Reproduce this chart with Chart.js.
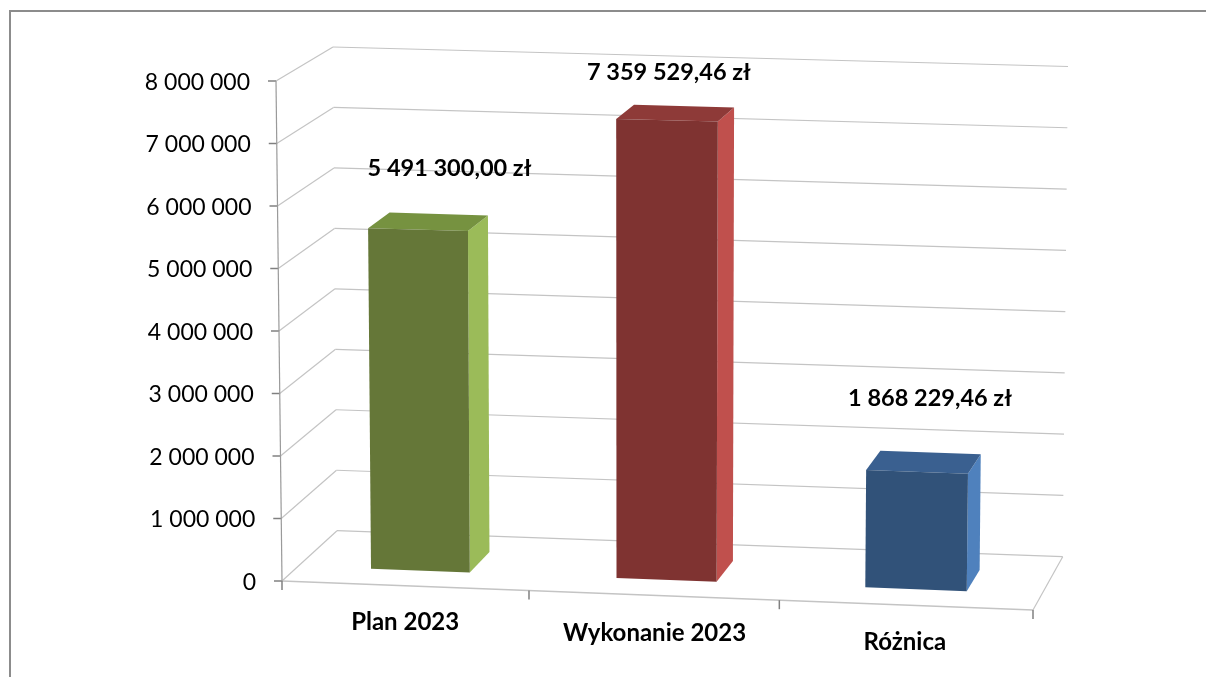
<!DOCTYPE html>
<html>
<head>
<meta charset="utf-8">
<title>Plan 2023</title>
<script src="https://cdn.jsdelivr.net/npm/chart.js@4"></script>
<style>
    html, body { margin: 0; padding: 0; background: #fff; overflow: hidden; }
    canvas { display: block; }
</style>
</head>
<body>
<canvas id="chart" width="1206" height="677"></canvas>
<script>
const categories = ['Plan 2023', 'Wykonanie 2023', 'Różnica'];
const values = [5491300.00, 7359529.46, 1868229.46];
const valueLabels = ['5 491 300,00 zł', '7 359 529,46 zł', '1 868 229,46 zł'];
const tickValues = [0, 1000000, 2000000, 3000000, 4000000, 5000000, 6000000, 7000000, 8000000];
const tickLabels = ['0', '1 000 000', '2 000 000', '3 000 000', '4 000 000', '5 000 000', '6 000 000', '7 000 000', '8 000 000'];

const frontColors = ['#657738', '#7f3331', '#315279'];
const topColors = ['#769240', '#8e3a38', '#3a6090'];
const sideColors = ['#9bbb59', '#c0504d', '#4f81bd'];

// corners of the drawn box: F/B front/back, B/T bottom/top, L/R left/right
const box = {
    fbl: [282, 581], fbr: [1033, 610], ftl: [276, 81], ftr: [1040, 100],
    bbl: [337, 530.7], bbr: [1062.7, 556.7], btl: [333, 47], btr: [1068, 66.5]
};
const depthFront = 0.3;
const depthBack = 0.7;
// slight perspective squeeze along the category axis
const squeeze = 0.02;
// data label offset from the top front edge centre of each bar
const labelShift = [[31.5, -61], [2, -48], [13, -73]];

const mix = (a, b, t) => [a[0] + (b[0] - a[0]) * t, a[1] + (b[1] - a[1]) * t];

// scale pixels + depth -> position on the picture
function project(chart, x, y, d) {
    const area = chart.chartArea;
    let u = (x - area.left) / (area.right - area.left);
    u -= squeeze * u * (1 - u);
    const v = (area.bottom - y) / (area.bottom - area.top);
    const front = mix(mix(box.fbl, box.fbr, u), mix(box.ftl, box.ftr, u), v);
    const back = mix(mix(box.bbl, box.bbr, u), mix(box.btl, box.btr, u), v);
    return mix(front, back, d);
}

function line(ctx, a, b, color, width) {
    ctx.strokeStyle = color;
    ctx.lineWidth = width;
    ctx.beginPath();
    ctx.moveTo(a[0], a[1]);
    ctx.lineTo(b[0], b[1]);
    ctx.stroke();
}

function poly(ctx, pts, color) {
    ctx.fillStyle = color;
    ctx.beginPath();
    pts.forEach((p, i) => i ? ctx.lineTo(p[0], p[1]) : ctx.moveTo(p[0], p[1]));
    ctx.closePath();
    ctx.fill();
}

const box3d = {
    id: 'box3d',
    beforeDraw(chart) {
        const ctx = chart.ctx;
        const area = chart.chartArea;
        const yScale = chart.scales.y;
        const gridColor = '#c4c4c4';
        const axisColor = '#9a9a9a';

        ctx.save();
        // outer frame, runs off the picture on the right and bottom
        ctx.strokeStyle = '#8c8c8c';
        ctx.lineWidth = 2;
        ctx.beginPath();
        ctx.moveTo(10, 677);
        ctx.lineTo(10, 11);
        ctx.lineTo(1206, 11);
        ctx.stroke();

        tickValues.forEach(v => {
            const y = yScale.getPixelForValue(v);
            const a = project(chart, area.left, y, 0);
            const b = project(chart, area.left, y, 1);
            const c = project(chart, area.right, y, 1);
            line(ctx, a, b, gridColor, 1.2);
            line(ctx, b, c, gridColor, 1.2);
            line(ctx, [a[0] - 8, a[1]], a, '#808080', 1.5);
        });

        // floor
        line(ctx, project(chart, area.left, area.bottom, 0), project(chart, area.right, area.bottom, 0), gridColor, 1.5);
        line(ctx, project(chart, area.right, area.bottom, 0), project(chart, area.right, area.bottom, 1), gridColor, 1.2);
        // value axis
        line(ctx, project(chart, area.left, area.top, 0), project(chart, area.left, area.bottom, 0), axisColor, 1.2);

        // category ticks
        for (let i = 0; i <= categories.length; i++) {
            const x = area.left + (area.right - area.left) * i / categories.length;
            const p = project(chart, x, area.bottom, 0);
            line(ctx, p, [p[0], p[1] + 9], '#808080', 1.5);
        }
        ctx.restore();
    },
    beforeDatasetDraw(chart, args) {
        const ctx = chart.ctx;
        ctx.save();
        args.meta.data.forEach((el, i) => {
            const bar = el.getProps(['x', 'y', 'base', 'width'], true);
            const l = bar.x - bar.width / 2;
            const r = bar.x + bar.width / 2;
            const p = (x, y, d) => project(chart, x, y, d);

            poly(ctx, [p(r, bar.base, depthFront), p(r, bar.base, depthBack), p(r, bar.y, depthBack), p(r, bar.y, depthFront)], sideColors[i]);
            poly(ctx, [p(l, bar.y, depthFront), p(l, bar.y, depthBack), p(r, bar.y, depthBack), p(r, bar.y, depthFront)], topColors[i]);
            poly(ctx, [p(l, bar.base, depthFront), p(r, bar.base, depthFront), p(r, bar.y, depthFront), p(l, bar.y, depthFront)], el.options.backgroundColor);

            const top = p(bar.x, bar.y, depthFront);
            ctx.fillStyle = '#000';
            ctx.font = 'bold 23.5px Lato';
            ctx.textAlign = 'center';
            ctx.textBaseline = 'middle';
            ctx.fillText(valueLabels[i], top[0] + labelShift[i][0], top[1] + labelShift[i][1]);
        });
        ctx.restore();
        return false; // bars are drawn above
    }
};

// axis labels follow the slanted axes of the box
function nudgeLabels(scale, shift) {
    if (scale._nudged) return;
    scale._nudged = true;
    const compute = scale._computeLabelItems;
    scale._computeLabelItems = function (area) {
        const items = compute.call(this, area);
        items.forEach((item, i) => {
            const d = shift(i);
            item.options.translation[0] += d[0];
            item.options.translation[1] += d[1];
        });
        return items;
    };
}

new Chart(document.getElementById('chart'), {
    type: 'bar',
    data: {
        labels: categories,
        datasets: [{
            data: values,
            backgroundColor: frontColors,
            barPercentage: 0.404,
            categoryPercentage: 1
        }]
    },
    plugins: [box3d],
    options: {
        responsive: false,
        animation: false,
        layout: { padding: { top: 81, right: 173, bottom: 0, left: 0 } },
        plugins: {
            legend: { display: false },
            tooltip: { enabled: false }
        },
        scales: {
            x: {
                grid: { display: false, drawTicks: false },
                border: { display: false },
                ticks: {
                    color: '#000',
                    padding: 0,
                    maxRotation: 0,
                    autoSkip: false,
                    font: { family: 'Lato', size: 24, weight: 'bold' }
                },
                afterFit: s => { s.height = 96; },
                afterUpdate: s => nudgeLabels(s, i => [[-2, 26.5], [-3, 37.5], [-3, 46.5]][i])
            },
            y: {
                min: 0,
                max: 8000000,
                grid: { display: false, drawTicks: false },
                border: { display: false },
                afterBuildTicks: s => { s.ticks = tickValues.map(value => ({ value })); },
                ticks: {
                    color: '#000',
                    padding: 26,
                    font: { family: 'Lato', size: 23 },
                    callback: (v, i) => tickLabels[i]
                },
                afterFit: s => { s.width = 282; },
                afterUpdate: s => nudgeLabels(s, i => [-6 * i / 8, 1.5])
            }
        }
    }
});
</script>
</body>
</html>
